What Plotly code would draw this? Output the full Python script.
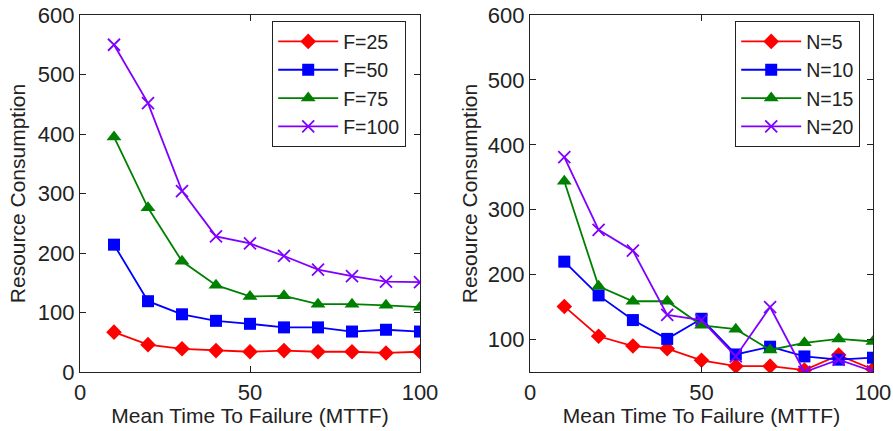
import plotly.graph_objects as go

mttf = [10, 20, 30, 40, 50, 60, 70, 80, 90, 100]

# Left panel: varying F
f_names = ["F=25", "F=50", "F=75", "F=100"]
f25 = [67, 46, 39, 36, 34, 36, 34, 34, 32, 34]
f50 = [214, 119, 97, 86, 81, 75, 75, 68, 71, 68]
f75 = [395, 276, 186, 146, 127, 128, 114, 114, 112, 109]
f100 = [550, 452, 304, 228, 216, 195, 172, 161, 152, 151]

# Right panel: varying N
n_names = ["N=5", "N=10", "N=15", "N=20"]
n5 = [151, 105, 90, 86, 68, 59, 59, 53, 76, 54]
n10 = [220, 168, 130, 101, 132, 77, 89, 74, 69, 72]
n15 = [344, 182, 159, 159, 122, 116, 84, 95, 101, 97]
n20 = [381, 269, 237, 138, 130, 74, 150, 50, 69, 51]

x_ticks = [0, 50, 100]
y_ticks_left = [0, 100, 200, 300, 400, 500, 600]
y_ticks_right = [100, 200, 300, 400, 500, 600]

colors = ["#ff0000", "#0000ff", "#008000", "#8000ff"]
symbols = ["diamond", "square", "triangle-up", "x-thin"]
sizes = [12, 12, 13, 12]

fig = go.Figure()

def add_series(vals_list, names, xa, ya, legend):
    for vals, name, c, s, sz in zip(vals_list, names, colors, symbols, sizes):
        fig.add_trace(go.Scatter(
            x=mttf, y=vals, name=name, mode="lines+markers",
            xaxis=xa, yaxis=ya, legend=legend,
            line=dict(color=c, width=1.8),
            marker=dict(symbol=s, size=sz, color=c,
                        line=dict(color=c, width=1.8 if s == "x-thin" else 0)),
        ))

add_series([f25, f50, f75, f100], f_names, "x", "y", "legend")
add_series([n5, n10, n15, n20], n_names, "x2", "y2", "legend2")

family = "Liberation Sans, Arial, sans-serif"
font = dict(family=family, size=21, color="#222222")
tfont = dict(family=family, size=22, color="#222222")
lfont = dict(family=family, size=19.5, color="#222222")
axis_common = dict(showgrid=False, zeroline=False, showline=True, mirror="ticks",
                   linecolor="#222222", linewidth=1.2, ticks="inside", ticklen=6,
                   tickcolor="#222222", tickfont=tfont, automargin=False)

W, H = 893, 431
fig.update_layout(
    width=W, height=H,
    margin=dict(l=0, r=0, t=0, b=0),
    paper_bgcolor="white", plot_bgcolor="white",
    font=font,
    xaxis=dict(domain=[80 / W, 420 / W], range=[0, 100], tickvals=x_ticks,
               title=dict(text="Mean Time To Failure (MTTF)", font=font, standoff=2),
               anchor="y", **axis_common),
    yaxis=dict(domain=[59 / H, 416 / H], range=[0, 600], tickvals=y_ticks_left,
               title=dict(text="Resource Consumption", font=font, standoff=6),
               anchor="x", **axis_common),
    xaxis2=dict(domain=[530 / W, 873 / W], range=[0, 100], tickvals=x_ticks,
                title=dict(text="Mean Time To Failure (MTTF)", font=font, standoff=2),
                anchor="y2", **axis_common),
    yaxis2=dict(domain=[59 / H, 416 / H], range=[50, 600], tickvals=y_ticks_right,
                title=dict(text="Resource Consumption", font=font, standoff=4),
                anchor="x2", **axis_common),
    legend=dict(x=272 / W, y=1 - 21 / H, xanchor="left", yanchor="top",
                bordercolor="#222222", borderwidth=1.2, bgcolor="white",
                font=lfont, tracegroupgap=0, itemwidth=60),
    legend2=dict(x=735 / W, y=1 - 21 / H, xanchor="left", yanchor="top",
                 bordercolor="#222222", borderwidth=1.2, bgcolor="white",
                 font=lfont, tracegroupgap=0, itemwidth=60),
    showlegend=True,
)

fig.write_html("out.html", config={"displayModeBar": False},
               post_script="document.body.style.margin='0';")
